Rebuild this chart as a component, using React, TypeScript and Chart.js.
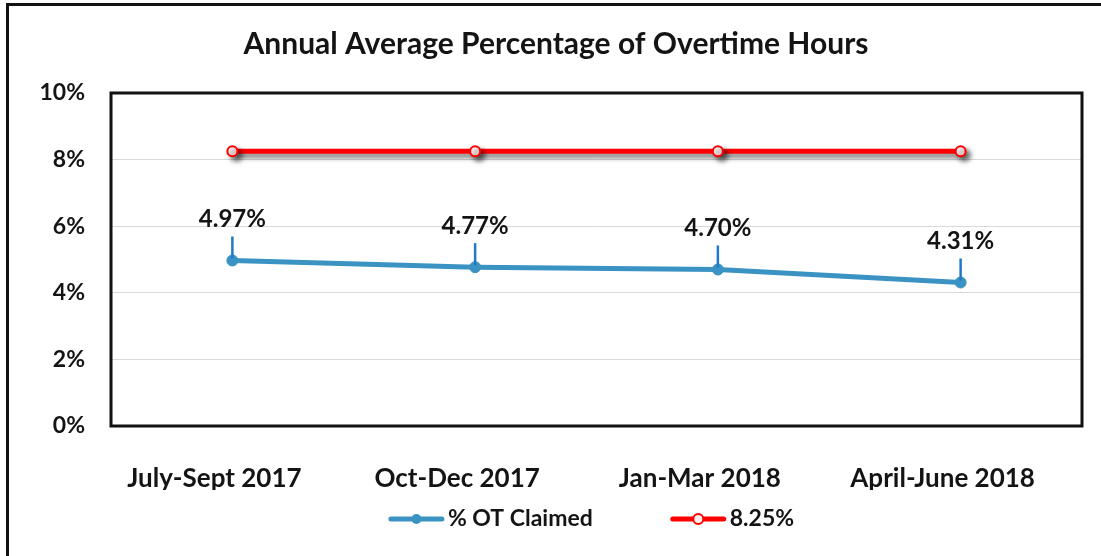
import React, { useEffect, useRef } from "react";
import { Chart, registerables } from "chart.js";

Chart.register(...registerables);

const chartTitle = "Annual Average Percentage of Overtime Hours";
const categories = ["July-Sept 2017", "Oct-Dec 2017", "Jan-Mar 2018", "April-June 2018"];
const otClaimed = [4.97, 4.77, 4.7, 4.31];
const targetLine = [8.25, 8.25, 8.25, 8.25];
const seriesNames = ["% OT Claimed", "8.25%"];
const yMin = 0;
const yMax = 10;
const yStep = 2;

const FONT = "Lato, 'Open Sans', sans-serif";
const TEXT = "#141414";
const BLUE = "#3a93c3";
const LEADER = "#1f78c8";
const RED = "#ff0000";

const framePlugin = {
  id: "framePlugin",
  beforeDraw(chart: any) {
    const ctx = chart.ctx;
    ctx.save();
    ctx.fillStyle = "#ffffff";
    ctx.fillRect(0, 0, chart.width, chart.height);
    ctx.strokeStyle = "#111";
    ctx.lineWidth = 3;
    ctx.beginPath();
    ctx.moveTo(7.5, chart.height);
    ctx.lineTo(7.5, 4.5);
    ctx.lineTo(chart.width, 4.5);
    ctx.stroke();
    ctx.restore();
  },
  beforeDatasetsDraw(chart: any) {
    const { ctx, chartArea: a } = chart;
    ctx.save();
    ctx.strokeStyle = "#111";
    ctx.lineWidth = 3;
    ctx.strokeRect(a.left, a.top, a.right - a.left, a.bottom - a.top);
    ctx.restore();
  },
  beforeDatasetDraw(chart: any, args: any) {
    if (args.index === 1) {
      const ctx = chart.ctx;
      ctx.save();
      ctx.shadowColor = "rgba(0,0,0,0.55)";
      ctx.shadowOffsetX = 4;
      ctx.shadowOffsetY = 4;
      ctx.shadowBlur = 5;
    }
  },
  afterDatasetDraw(chart: any, args: any) {
    if (args.index === 1) chart.ctx.restore();
  },
  afterDatasetsDraw(chart: any) {
    const ctx = chart.ctx;
    const meta = chart.getDatasetMeta(0);
    ctx.save();
    meta.data.forEach((pt: any, i: number) => {
      const x = pt.x;
      const y = pt.y;
      ctx.strokeStyle = LEADER;
      ctx.lineWidth = 2.5;
      ctx.beginPath();
      ctx.moveTo(x, y - 2);
      ctx.lineTo(x, y - 24);
      ctx.stroke();
      ctx.fillStyle = TEXT;
      ctx.font = `bold 24px ${FONT}`;
      ctx.textAlign = "center";
      ctx.textBaseline = "middle";
      ctx.fillText(otClaimed[i].toFixed(2) + "%", x, y - 41);
    });
    // legend
    const a = chart.chartArea;
    const cy = 519;
    ctx.font = `bold 23px ${FONT}`;
    ctx.textBaseline = "middle";
    ctx.textAlign = "left";
    const markerW = 55;
    const gapText = 4;
    const gapItems = 78;
    const w0 = ctx.measureText(seriesNames[0]).width;
    const w1 = ctx.measureText(seriesNames[1]).width;
    const total = markerW + gapText + w0 + gapItems + markerW + gapText + w1;
    let x = (a.left + a.right) / 2 - 5 - total / 2;
    const colors = [BLUE, RED];
    const ws = [w0, w1];
    for (let i = 0; i < 2; i++) {
      ctx.strokeStyle = colors[i];
      ctx.lineWidth = 5;
      ctx.lineCap = "round";
      ctx.beginPath();
      ctx.moveTo(x + 2, cy);
      ctx.lineTo(x + markerW - 2, cy);
      ctx.stroke();
      ctx.beginPath();
      ctx.arc(x + markerW / 2, cy, 5, 0, Math.PI * 2);
      if (i === 0) {
        ctx.fillStyle = BLUE;
        ctx.fill();
      } else {
        ctx.fillStyle = "#fff0f0";
        ctx.fill();
        ctx.lineWidth = 2;
        ctx.stroke();
      }
      ctx.fillStyle = TEXT;
      ctx.fillText(seriesNames[i], x + markerW + gapText, cy);
      x += markerW + gapText + ws[i] + gapItems;
    }
    ctx.restore();
  },
};

export default function App() {
  const ref = useRef<HTMLCanvasElement>(null);
  useEffect(() => {
    if (!ref.current) return;
    const chart = new Chart(ref.current, {
      type: "line",
      data: {
        labels: categories,
        datasets: [
          {
            label: seriesNames[0],
            data: otClaimed,
            borderColor: BLUE,
            backgroundColor: BLUE,
            borderWidth: 5,
            pointRadius: 5.5,
            pointBackgroundColor: BLUE,
            pointBorderColor: BLUE,
            pointBorderWidth: 1,
            tension: 0,
          },
          {
            label: seriesNames[1],
            data: targetLine,
            borderColor: RED,
            backgroundColor: "#fff0f0",
            borderWidth: 5,
            pointRadius: 5,
            pointBackgroundColor: "#fff0f0",
            pointBorderColor: RED,
            pointBorderWidth: 2,
            tension: 0,
          },
        ],
      },
      options: {
        responsive: false,
        animation: false,
        devicePixelRatio: 1,
        layout: { padding: { left: 30, right: 19, top: 0, bottom: 66 } },
        plugins: {
          legend: { display: false },
          tooltip: { enabled: false },
          title: {
            display: true,
            text: chartTitle,
            color: TEXT,
            font: { family: FONT, size: 30, weight: "bold" },
            padding: { top: 26, bottom: 31 },
          },
        },
        scales: {
          x: {
            offset: true,
            afterFit: (s: any) => {
              s.height = 64;
            },
            grid: { display: false, drawTicks: false },
            border: { display: false },
            ticks: {
              color: TEXT,
              padding: 37,
              labelOffset: -18,
              maxRotation: 0,
              autoSkip: false,
              font: { family: FONT, size: 26, weight: "bold" },
            },
          },
          y: {
            min: yMin,
            max: yMax,
            afterFit: (s: any) => {
              s.width = 81;
            },
            grid: { color: "#d9d9d9", lineWidth: 1, drawTicks: false },
            border: { display: false },
            ticks: {
              stepSize: yStep,
              color: TEXT,
              padding: 26,
              font: { family: FONT, size: 23, weight: "bold" },
              callback: (v: any) => v + "%",
            },
          },
        },
      },
      plugins: [framePlugin],
    });
    return () => chart.destroy();
  }, []);
  return (
    <div style={{ position: "absolute", left: 0, top: 0, width: 1101, height: 556 }}>
      <canvas ref={ref} width={1101} height={556} />
    </div>
  );
}
